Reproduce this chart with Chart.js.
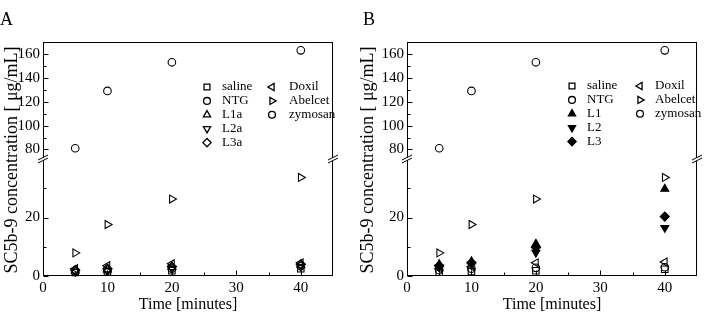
<!DOCTYPE html>
<html><head><meta charset="utf-8">
<script src="https://cdn.jsdelivr.net/npm/chart.js@4.4.0/dist/chart.umd.min.js"></script>
<style>
html,body{margin:0;padding:0;background:#fff;}
#wrap{position:relative;width:705px;height:317px;overflow:hidden;background:#fff;}
.pane{position:absolute;top:0;height:317px;}
.lbl{position:absolute;font-family:"Liberation Serif",serif;font-size:18px;line-height:1;color:#000;}
</style></head><body>
<div id="wrap">
<div class="pane" style="left:0;width:345px"><canvas id="cA"></canvas></div>
<div class="pane" style="left:352px;width:353px"><canvas id="cB"></canvas></div>
<div class="lbl" style="left:0;top:10px">A</div>
<div class="lbl" style="left:363px;top:10px">B</div>
</div>
<script>
// ---- data ----
const times = [5, 10, 20, 40];
const xTicks = [0, 10, 20, 30, 40];
const yLowTicks = [0, 20];
const yHighTicks = [80, 100, 120, 140, 160];
const xTitle = 'Time [minutes]';
const yTitle = 'SC5b-9 concentration [ \u03bcg/mL]';

// Panel A
const namesA = ['saline', 'NTG', 'L1a', 'L2a', 'L3a', 'Doxil', 'Abelcet', 'zymosan'];
const salineA  = [1.2, 1.3, 1.8, 2.5];
const ntgA     = [1.5, 1.8, 2.5, 3.4];
const l1aA     = [1.8, 2.2, 3.0, 3.8];
const l2aA     = [1.5, 1.8, 2.5, 3.2];
const l3aA     = [2.0, 2.5, 3.2, 4.0];
const doxilA   = [2.5, 3.5, 4.2, 4.5];
const abelcetA = [7.9, 17.6, 26.3, 33.7];
const zymosanA = [81, 129, 153, 163];

// Panel B
const namesB = ['saline', 'NTG', 'L1', 'L2', 'L3', 'Doxil', 'Abelcet', 'zymosan'];
const salineB  = [1.3, 1.5, 1.8, 2.3];
const ntgB     = [2.0, 2.5, 2.8, 3.0];
const l1B      = [4.0, 5.0, 11.0, 29.8];
const l2B      = [3.0, 4.0, 8.0, 16.5];
const l3B      = [3.5, 4.5, 9.8, 20.3];
const doxilB   = [2.5, 3.2, 4.5, 4.8];
const abelcetB = [7.9, 17.6, 26.3, 33.7];
const zymosanB = [81, 129, 153, 163];

// ---- styles ----
const FONT = '"Liberation Serif", serif';
const NONE = 'rgba(0,0,0,0)';
function style(kind, filled) {
  const m = {
    square:  {pointStyle: 'rect', rotation: 0, radius: 4.6},
    circle:  {pointStyle: 'circle', rotation: 0, radius: 3.8},
    up:      {pointStyle: 'triangle', rotation: 0, radius: 4.6},
    down:    {pointStyle: 'triangle', rotation: 180, radius: 4.6},
    diamond: {pointStyle: 'rectRot', rotation: 0, radius: 4.6},
    left:    {pointStyle: 'triangle', rotation: 270, radius: 4.6},
    right:   {pointStyle: 'triangle', rotation: 90, radius: 4.6}
  }[kind];
  return Object.assign({}, m, {fill: filled ? '#000' : NONE});
}
const kinds = ['square', 'circle', 'up', 'down', 'diamond', 'left', 'right', 'circle'];

function buildDatasets(names, series, filledIdx) {
  return names.map((n, i) => {
    const s = style(kinds[i], filledIdx.includes(i));
    return {
      label: n,
      data: times.map((t, k) => ({x: t, y: series[i][k]})),
      yAxisID: n === 'zymosan' ? 'yHigh' : 'yLow',
      pointStyle: s.pointStyle,
      rotation: s.rotation,
      pointRadius: s.radius,
      pointHoverRadius: s.radius,
      pointBackgroundColor: s.fill,
      pointBorderColor: '#000',
      pointBorderWidth: 1.1,
      showLine: false,
      clip: false
    };
  });
}

function makePlugin(cfg) {
  return {
    id: 'deco',
    afterDraw(chart) {
      const ctx = chart.ctx, a = chart.chartArea;
      const sx = chart.scales.x, yl = chart.scales.yLow, yh = chart.scales.yHigh;
      ctx.save();
      ctx.strokeStyle = '#000';
      ctx.lineWidth = 1;
      ctx.strokeRect(Math.round(a.left) + 0.5, Math.round(a.top) + 0.5,
                     Math.round(a.right - a.left) - 1, Math.round(a.bottom - a.top) - 1);
      const L = Math.round(a.left) + 0.5, B = Math.round(a.bottom) - 0.5;
      ctx.beginPath();
      // x ticks (inward)
      for (let i = 0; i < xTicks.length; i++) {
        const px = Math.round(sx.getPixelForValue(xTicks[i])) + 0.5;
        ctx.moveTo(px, B); ctx.lineTo(px, B - 5);
        const mid = xTicks[i] + (xTicks[1] - xTicks[0]) / 2;
        if (mid < sx.max) {
          const pm = Math.round(sx.getPixelForValue(mid)) + 0.5;
          ctx.moveTo(pm, B); ctx.lineTo(pm, B - 3);
        }
      }
      const yTickSets = [[yl, yLowTicks], [yh, yHighTicks]];
      yTickSets.forEach(([sc, tk]) => {
        const step = tk[1] - tk[0];
        tk.forEach(v => {
          const py = Math.round(sc.getPixelForValue(v)) + 0.5;
          ctx.moveTo(L, py); ctx.lineTo(L + 5, py);
          const mid = v + step / 2;
          if (mid < sc.max) {
            const pm = Math.round(sc.getPixelForValue(mid)) + 0.5;
            ctx.moveTo(L, pm); ctx.lineTo(L + 3, pm);
          }
        });
      });
      ctx.stroke();
      // axis break marks
      const by = yh.bottom;
      [a.left, a.right].forEach(ax => {
        ctx.fillStyle = '#fff';
        ctx.beginPath();
        ctx.moveTo(ax - 5, by + 1); ctx.lineTo(ax + 5, by - 4);
        ctx.lineTo(ax + 5, by - 1); ctx.lineTo(ax - 5, by + 4);
        ctx.closePath(); ctx.fill();
        ctx.beginPath();
        ctx.moveTo(ax - 5, by + 1); ctx.lineTo(ax + 5, by - 4);
        ctx.moveTo(ax - 5, by + 4); ctx.lineTo(ax + 5, by - 1);
        ctx.stroke();
      });
      // titles
      ctx.fillStyle = '#000';
      ctx.font = '16px ' + FONT;
      ctx.textAlign = 'center';
      ctx.textBaseline = 'middle';
      ctx.fillText(xTitle, (a.left + a.right) / 2, 305);
      ctx.save();
      ctx.font = '18px ' + FONT;
      ctx.translate(cfg.yTitleX, (a.top + a.bottom) / 2 + 1);
      ctx.rotate(-Math.PI / 2);
      ctx.fillText(yTitle, 0, 0);
      ctx.restore();
      // legend
      ctx.font = '13px ' + FONT;
      ctx.textAlign = 'left';
      const ds = chart.data.datasets;
      ds.forEach((d, i) => {
        const col = i < 5 ? 0 : 1, row = i < 5 ? i : i - 5;
        const mx = cfg.legend.mx[col], tx = cfg.legend.tx[col];
        const my = cfg.legend.y0 + row * cfg.legend.dy;
        ctx.fillStyle = d.pointBackgroundColor;
        ctx.strokeStyle = '#000';
        ctx.lineWidth = 1.3;
        Chart.helpers.drawPoint(ctx, {pointStyle: d.pointStyle, rotation: d.rotation,
          radius: d.pointRadius * 0.9, borderWidth: 1.3}, mx, my);
        ctx.fillStyle = '#000';
        ctx.fillText(d.label, tx, my);
      });
      ctx.restore();
    }
  };
}

function makeChart(id, names, series, filledIdx, cfg) {
  const tickFont = {family: FONT, size: 15};
  return new Chart(document.getElementById(id), {
    type: 'scatter',
    data: {datasets: buildDatasets(names, series, filledIdx)},
    options: {
      responsive: true,
      maintainAspectRatio: false,
      animation: false,
      events: [],
      layout: {padding: {left: 0, top: 42, right: cfg.padRight, bottom: 0}},
      plugins: {legend: {display: false}, tooltip: {enabled: false}},
      scales: {
        x: {
          type: 'linear', min: 0, max: 45,
          afterBuildTicks: s => { s.ticks = xTicks.map(v => ({value: v})); },
          afterFit: s => { s.height = 41; },
          grid: {display: false, drawTicks: false},
          border: {display: false},
          ticks: {font: tickFont, color: '#000', padding: 3, autoSkip: false, maxRotation: 0}
        },
        yLow: {
          type: 'linear', position: 'left', stack: 'y', stackWeight: 1,
          min: 0, max: 40,
          afterBuildTicks: s => { s.ticks = yLowTicks.map(v => ({value: v})); },
          afterFit: s => { s.width = cfg.axisW; },
          grid: {display: false, drawTicks: false},
          border: {display: false},
          ticks: {font: tickFont, color: '#000', padding: 3, autoSkip: false}
        },
        yHigh: {
          type: 'linear', position: 'left', stack: 'y', stackWeight: 1,
          min: 72, max: 170,
          afterBuildTicks: s => { s.ticks = yHighTicks.map(v => ({value: v})); },
          afterFit: s => { s.width = cfg.axisW; },
          grid: {display: false, drawTicks: false},
          border: {display: false},
          ticks: {font: tickFont, color: '#000', padding: 3, autoSkip: false}
        }
      }
    },
    plugins: [makePlugin(cfg)]
  });
}

makeChart('cA', namesA,
  [salineA, ntgA, l1aA, l2aA, l3aA, doxilA, abelcetA, zymosanA], [],
  {axisW: 43, padRight: 12, yTitleX: 12,
   legend: {mx: [207, 272], tx: [222, 289], y0: 87, dy: 13.9}});

makeChart('cB', namesB,
  [salineB, ntgB, l1B, l2B, l3B, doxilB, abelcetB, zymosanB], [2, 3, 4],
  {axisW: 55, padRight: 8, yTitleX: 16,
   legend: {mx: [220, 288], tx: [235, 303], y0: 86, dy: 13.9}});
</script>
</body></html>
